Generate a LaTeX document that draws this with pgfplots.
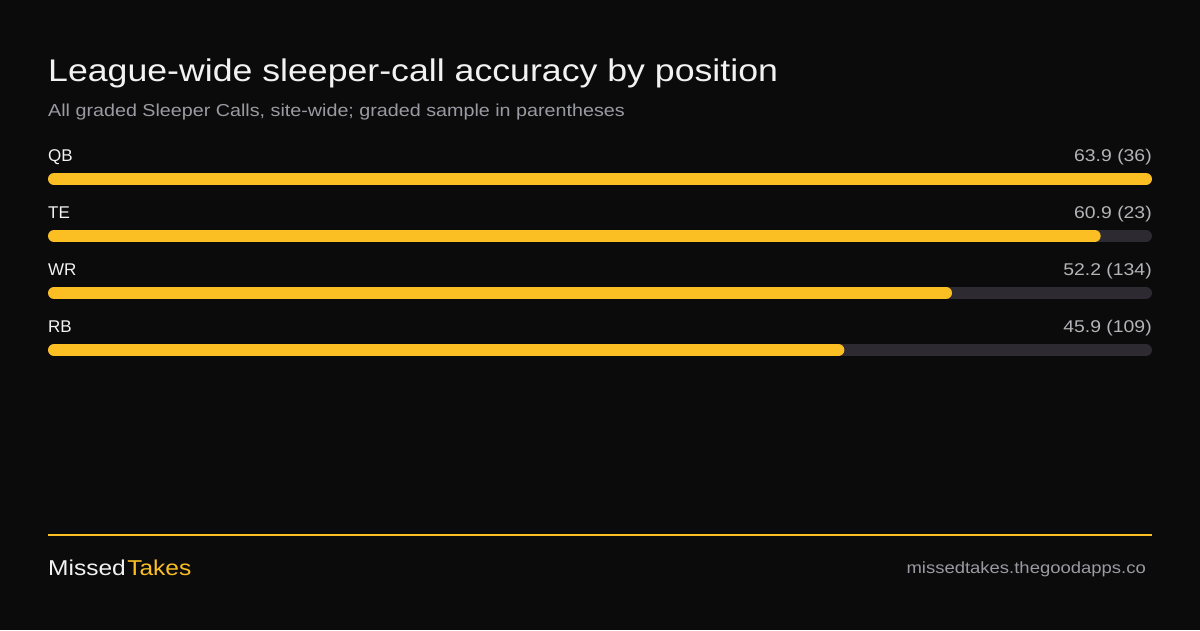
\documentclass[border=0pt]{standalone}
\usepackage{pgfplots}
\pgfplotsset{compat=1.18}
\usepackage{fontspec}
\setmainfont{Liberation Sans}
\newfontfamily\wide[FakeStretch=1.14]{Liberation Sans}
\definecolor{bg}{HTML}{0B0B0B}
\definecolor{amber}{HTML}{FBBF24}
\definecolor{track}{HTML}{2D2A32}
\definecolor{subgray}{HTML}{9A9AA2}
\definecolor{valgray}{HTML}{B4B4B8}
\definecolor{titlewhite}{HTML}{F2F2F2}

\begin{document}
\begin{tikzpicture}[x=1pt,y=1pt]
\fill[bg] (0,0) rectangle (1200,630);
% title block
\node[anchor=base west,inner sep=0,text=titlewhite,font=\wide\fontsize{31.3}{36}\selectfont] at (48,548) {League-wide sleeper-call accuracy by position};
\node[anchor=base west,inner sep=0,text=subgray,font=\wide\fontsize{17.3}{20}\selectfont] at (48,513) {All graded Sleeper Calls, site-wide; graded sample in parentheses};

\begin{axis}[
    at={(54pt,479.5pt)}, anchor=north west,
    scale only axis, width=1092pt, height=228pt,
    xmin=0, xmax=63.9, ymin=0.5, ymax=4.5,
    y dir=reverse,
    hide axis, clip=false,
]
% tracks
\addplot[track, line width=12pt, line cap=round] coordinates {(0,1) (63.9,1)};
\addplot[track, line width=12pt, line cap=round] coordinates {(0,2) (63.9,2)};
\addplot[track, line width=12pt, line cap=round] coordinates {(0,3) (63.9,3)};
\addplot[track, line width=12pt, line cap=round] coordinates {(0,4) (63.9,4)};
% values
\addplot[amber, line width=12pt, line cap=round] coordinates {(0,1) (63.9,1)};
\addplot[amber, line width=12pt, line cap=round] coordinates {(0,2) (60.9,2)};
\addplot[amber, line width=12pt, line cap=round] coordinates {(0,3) (52.2,3)};
\addplot[amber, line width=12pt, line cap=round] coordinates {(0,4) (45.9,4)};
% labels
\foreach \r/\lab/\val in {1/QB/63.9 (36), 2/TE/60.9 (23), 3/WR/52.2 (134), 4/RB/45.9 (109)}{
  \edef\tmp{\noexpand\node[anchor=base west,inner sep=0,text=titlewhite,font=\noexpand\fontsize{17}{20}\noexpand\selectfont,xshift=-6pt,yshift=17pt] at (axis cs:0,\r) {\lab};
  \noexpand\node[anchor=base east,inner sep=0,text=valgray,font=\noexpand\wide\noexpand\fontsize{17}{20}\noexpand\selectfont,xshift=6pt,yshift=17pt] at (axis cs:63.9,\r) {\val};}
  \tmp
}
\end{axis}

% footer
\draw[amber, line width=2pt] (48,95) -- (1152,95);
\node[anchor=base west,inner sep=0,font=\wide\fontsize{21.5}{26}\selectfont] at (48,55) {\textcolor{titlewhite}{Missed}\kern1.5pt\textcolor{amber}{Takes}};
\node[anchor=base east,inner sep=0,text=subgray,font=\wide\fontsize{16.2}{20}\selectfont] at (1146,57) {missedtakes.thegoodapps.co};
\end{tikzpicture}
\end{document}
